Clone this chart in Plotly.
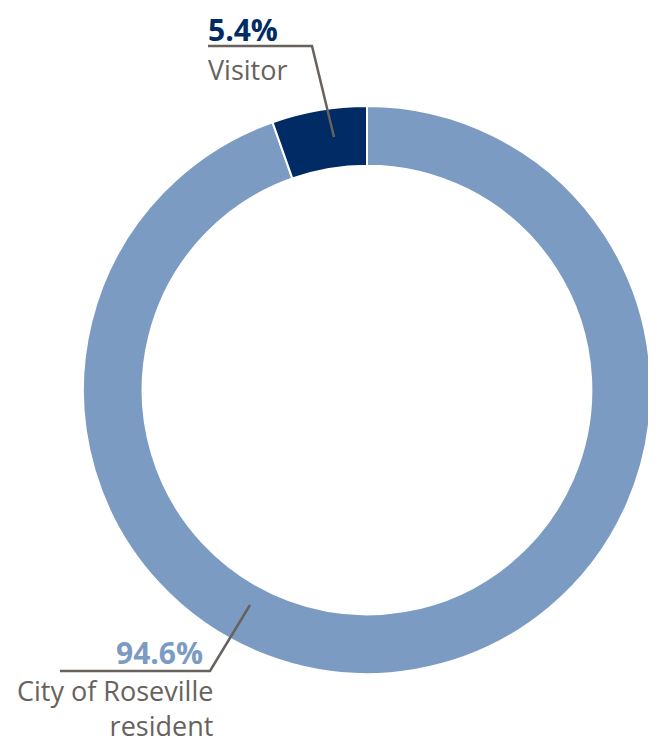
import plotly.graph_objects as go

categories = ["City of Roseville resident", "Visitor"]
values = [94.6, 5.4]
pct_labels = ["94.6%", "5.4%"]
colors = ["#7B9BC3", "#002B64"]

W, H = 656, 744
OFF = 8  # page body margin
cx, cy, R = 367, 390, 284

def px(x):
    return (x - OFF) / W

def py(y):
    return 1 - (y - OFF) / H

fig = go.Figure(go.Pie(
    labels=categories,
    values=values,
    hole=0.79,
    sort=False,
    direction="clockwise",
    rotation=0,
    marker=dict(colors=colors, line=dict(color="white", width=2)),
    textinfo="none",
    hoverinfo="label+percent",
    showlegend=False,
    domain=dict(x=[px(cx - R), px(cx + R)], y=[py(cy + R), py(cy - R)]),
))

pct_font = "Open Sans, sans-serif"
lab_font = "Open Sans, sans-serif"
gray = "#68625D"

annotations = [
    dict(x=px(206), y=py(30), text="<b>" + pct_labels[1] + "</b>", xanchor="left", yanchor="middle",
         font=dict(family=pct_font, size=30, color=colors[1])),
    dict(x=px(206), y=py(69), text=categories[1], xanchor="left", yanchor="middle",
         font=dict(family=lab_font, size=27, color=gray)),
    dict(x=px(205), y=py(652), text="<b>" + pct_labels[0] + "</b>", xanchor="right", yanchor="middle",
         font=dict(family=pct_font, size=30, color=colors[0])),
    dict(x=px(215), y=py(708), text="City of Roseville<br>resident", xanchor="right", yanchor="middle",
         align="right", font=dict(family=lab_font, size=27, color=gray)),
]
for a in annotations:
    a.update(xref="paper", yref="paper", showarrow=False)

shapes = [
    dict(type="path", xref="paper", yref="paper",
         path=f"M {px(208)},{py(46)} L {px(312)},{py(46)} L {px(334)},{py(137)}",
         line=dict(color=gray, width=2.5)),
    dict(type="path", xref="paper", yref="paper",
         path=f"M {px(60)},{py(671)} L {px(210)},{py(671)} L {px(250)},{py(605)}",
         line=dict(color=gray, width=2.5)),
]

fig.update_layout(
    width=W, height=H,
    margin=dict(l=0, r=0, t=0, b=0),
    paper_bgcolor="white", plot_bgcolor="white",
    annotations=annotations,
    shapes=shapes,
)

fig.write_html("out.html")
